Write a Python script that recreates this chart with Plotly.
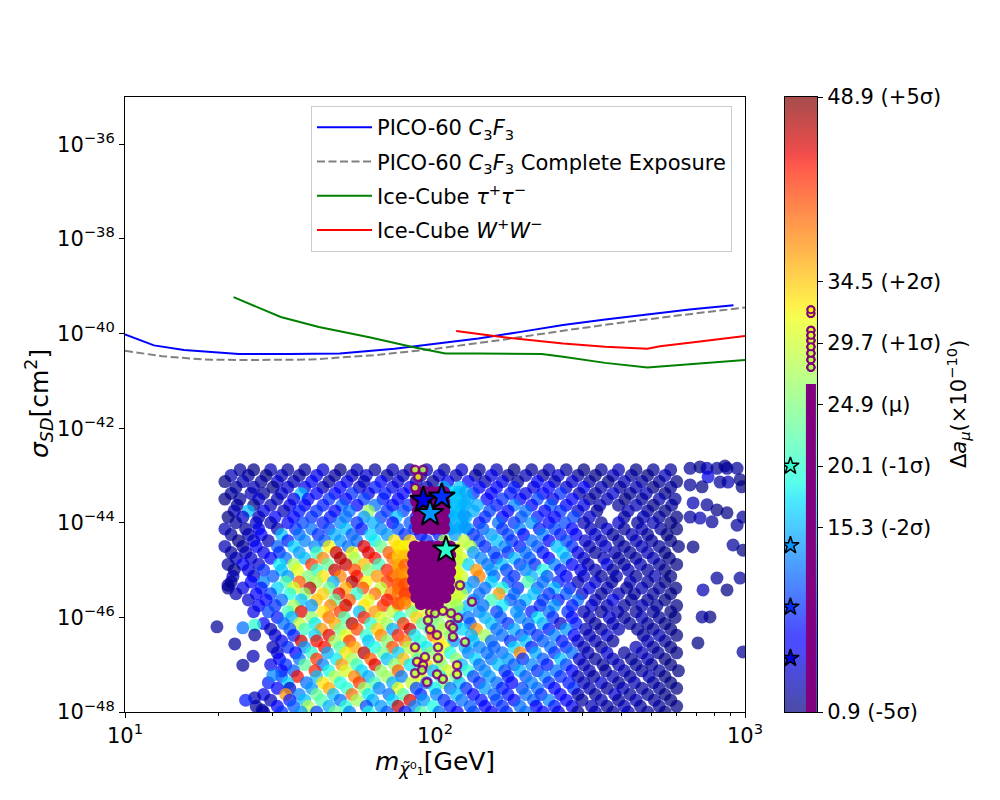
import numpy as np
import plotly.graph_objects as go

# ---------------- exclusion curves (mass in GeV, log10 sigma in cm^2) ----------------
pico_mass = [10, 12.4, 15.5, 23.3, 33.9, 49.3, 74.1, 101, 138, 189, 259, 354, 484, 662, 918]
pico_log_sigma = [-40.02, -40.25, -40.35, -40.435, -40.435, -40.42, -40.32, -40.22, -40.105,
                  -39.965, -39.82, -39.705, -39.59, -39.49, -39.40]
pico_full_mass = [10, 13.2, 18.1, 24.8, 39.6, 63.4, 101, 162, 259, 414, 662, 964, 1000]
pico_full_log_sigma = [-40.365, -40.48, -40.55, -40.56, -40.55, -40.46, -40.32, -40.14, -39.94,
                       -39.755, -39.59, -39.46, -39.45]
tau_mass = [22.4, 31.8, 42.2, 61.4, 83.9, 108, 138, 221, 259, 354, 484, 662, 1000]
tau_log_sigma = [-39.23, -39.65, -39.86, -40.08, -40.28, -40.42, -40.42, -40.435, -40.49,
                 -40.62, -40.72, -40.645, -40.56]
ww_mass = [117, 162, 259, 354, 484, 532, 705, 1000]
ww_log_sigma = [-39.945, -40.07, -40.21, -40.28, -40.32, -40.27, -40.175, -40.05]

# ---------------- scan points, grouped by log10(sigma) level ----------------
row_log_sigma = [-42.88, -43.0, -43.13, -43.25, -43.38, -43.5, -43.63, -43.75, -43.88, -44.0,
                 -44.13, -44.25, -44.38, -44.5, -44.63, -44.75, -44.88, -45.0, -45.13, -45.25,
                 -45.38, -45.5, -45.63, -45.75, -45.88, -46.0, -46.13, -46.25, -46.38, -46.5,
                 -46.63, -46.75, -46.88, -47.0, -47.13, -47.25, -47.38, -47.5, -47.63, -47.75,
                 -47.88, -48.0, -48.13]
row_mass = [
    [23.5, 26, 29.5, 33.5, 38, 43.5, 49.5, 56, 64, 73, 83, 94, 107, 122, 139, 158, 180, 205, 233, 265, 302, 344, 391, 445, 506, 576],
    [22, 25, 28.5, 32, 36.5, 41.5, 47.5, 54, 60, 70, 79, 90, 103, 117, 135, 152, 172, 196, 223, 250, 289, 329, 375, 430, 485, 552],
    [21, 24, 27.5, 31, 35, 40, 45.5, 52, 59, 67, 76, 87, 98.5, 110, 128, 145, 165, 185, 214, 243, 277, 315, 362, 408, 465, 529, 602],
    [22.8, 26, 30, 33.5, 38, 43.5, 49.5, 57, 64, 73, 83, 94, 107, 120, 139, 158, 180, 208, 233, 265, 302, 344, 395, 445, 506, 576],
    [22, 25.5, 28, 32, 37, 41.5, 47.5, 54, 61, 69, 79, 90, 103, 118, 133, 152, 175, 196, 223, 254, 292, 329, 375, 426, 480, 552],
    [21, 23.5, 27, 31, 35, 39, 45.5, 51.5, 59, 68, 76, 87, 98.5, 112, 128, 147, 165, 188, 214, 240, 277, 315, 359, 410, 465, 529, 595],
    [23, 26, 29.5, 34, 38, 43.5, 50, 56, 64, 73, 82, 94, 107, 122, 137, 158, 180, 205, 236, 265, 302, 340, 391, 445, 506, 580],
    [22.5, 25, 28, 32.5, 36.5, 41.5, 47.5, 53, 61, 70, 79, 91, 103, 117, 133, 150, 172, 196, 226, 254, 289, 333, 420, 485, 552],
    [21.5, 24, 27, 30.5, 35, 40, 46, 51.5, 59, 67, 75, 87, 98.5, 112, 126, 145, 165, 190, 214, 243, 280, 315, 408, 470, 529, 602],
    [22.8, 26.5, 29.5, 33.5, 37.5, 43.5, 49.5, 56, 63, 73, 83, 95, 107, 122, 139, 160, 180, 205, 233, 262, 302, 344, 391, 450, 506, 576],
    [21, 24.5, 27, 31, 35.5, 40, 45.5, 51.5, 58, 67, 76, 86, 98.5, 112, 128, 143, 165, 188, 217, 243, 277, 318, 359, 408, 465, 535, 602],
    [22, 25, 27.5, 32, 36.5, 42, 47.5, 54, 62, 70, 80, 90, 103, 116, 133, 152, 172, 193, 223, 254, 285, 329, 375, 432, 485, 560],
    [23.2, 26, 29, 33.5, 38, 44, 49.5, 56, 64, 74, 83, 94, 107, 124, 139, 158, 177, 205, 233, 265, 305, 344, 391, 445, 500, 576],
    [21, 24, 26.5, 31, 35, 41, 45.5, 52.5, 59, 67, 77, 87, 98.5, 112, 130, 145, 168, 188, 214, 247, 277, 315, 355, 408, 465, 529, 610],
    [22, 24.5, 28, 31.5, 36.5, 41.5, 48, 54, 61, 71, 79, 90, 102, 117, 133, 155, 172, 196, 223, 258, 289, 329, 380, 426, 485, 552],
    [22.8, 25.5, 29.5, 33, 38, 43.5, 49.5, 55, 64, 73, 84, 94, 107, 122, 141, 158, 180, 202, 233, 265, 302, 350, 391, 445, 506, 570],
    [21.5, 24, 27, 31.5, 35, 40, 45, 51.5, 59, 66, 76, 87, 97, 112, 128, 148, 165, 188, 210, 243, 277, 312, 359, 408, 460, 529, 602],
    [22.5, 25, 28, 32, 36, 41.5, 47.5, 55, 61, 70, 78, 90, 103, 117, 136, 152, 170, 196, 223, 254, 295, 329, 375, 420, 485, 552],
    [22.3, 26, 30, 33.5, 39, 43.5, 49.5, 56, 65, 73, 83, 93, 107, 122, 139, 155, 180, 205, 230, 265, 302, 344, 385, 445, 512, 576],
    [22, 25.5, 28, 33, 36.5, 41.5, 47, 54, 60, 70, 79, 89, 103, 118, 133, 152, 172, 199, 223, 250, 289, 329, 372, 426, 485, 552],
    [21.5, 24, 27.5, 31, 35, 39.5, 45.5, 51.5, 58.5, 67, 76, 88, 98.5, 112, 126, 145, 165, 185, 214, 243, 272, 315, 359, 415, 465, 529, 598],
    [22.8, 26.5, 29.5, 34, 38, 43.5, 49, 56, 64, 72, 83, 94, 106, 122, 139, 161, 180, 208, 233, 265, 298, 344, 391, 440, 506, 576],
    [25, 28.5, 32, 37, 41.5, 47.5, 53, 61, 70, 80, 90, 103, 116, 133, 152, 175, 196, 223, 250, 289, 329, 375, 430, 485, 552],
    [27, 30.5, 35, 40, 46, 51.5, 59, 68, 76, 87, 100, 112, 128, 143, 165, 188, 218, 243, 277, 320, 359, 408, 465, 520, 602],
    [26, 29, 33.5, 37, 43.5, 49.5, 57, 64, 73, 84, 94, 107, 120, 139, 158, 183, 205, 233, 268, 302, 344, 388, 445, 506, 576],
    [31, 34.5, 40, 45.5, 51, 59, 67, 77, 87, 98.5, 114, 128, 145, 163, 188, 214, 240, 277, 315, 365, 408, 465, 529, 595],
    [28, 32.5, 36.5, 41, 47.5, 54, 62, 70, 79, 91, 103, 117, 130, 152, 172, 200, 223, 254, 285, 329, 375, 425, 485, 552],
    [29.5, 34, 38, 43, 49.5, 56, 65, 73, 83, 96, 107, 122, 136, 158, 180, 202, 233, 265, 306, 344, 391, 450, 506, 576],
    [30.5, 35, 41, 45.5, 51.5, 60, 67, 76, 86, 98.5, 112, 131, 145, 165, 190, 214, 243, 281, 315, 359, 470, 529, 602],
    [32, 37, 41.5, 47.5, 53, 61, 70, 80, 90, 103, 115, 133, 152, 175, 196, 223, 257, 289, 329, 375, 485, 552],
    [30, 33.5, 38, 44, 49.5, 55, 64, 73, 82, 94, 107, 125, 139, 155, 180, 205, 236, 265, 302, 344, 445, 506, 576],
    [31, 35.5, 40, 45, 51.5, 59, 68, 76, 87, 97, 112, 128, 147, 165, 188, 211, 243, 277, 312, 359, 408, 465, 525, 602],
    [31.5, 36.5, 41.5, 48, 54, 62, 70, 79, 88, 103, 117, 135, 152, 172, 192, 223, 254, 292, 329, 375, 430, 485, 552],
    [29.5, 33, 38, 43.5, 50, 56, 64, 74, 83, 94, 105, 122, 139, 160, 180, 205, 230, 265, 302, 348, 391, 445, 500, 576],
    [32, 35, 41, 45.5, 51.5, 58, 67, 76, 89, 98.5, 110, 128, 145, 168, 188, 214, 246, 277, 315, 355, 408, 465, 529, 610],
    [32, 36, 41.5, 47.5, 55, 61, 70, 78, 90, 104, 117, 133, 150, 172, 196, 226, 254, 289, 325, 375, 426, 490, 552],
    [29, 33.5, 38.5, 43.5, 49.5, 57, 64, 73, 84, 94, 107, 120, 139, 158, 177, 205, 233, 270, 302, 344, 391, 440, 506, 576],
    [31, 34, 40, 45.5, 52, 59, 66, 76, 87, 100, 112, 126, 145, 165, 191, 214, 243, 280, 315, 359, 404, 465, 529, 602],
    [28, 33, 36.5, 41.5, 47, 54, 61, 71, 79, 90, 101, 117, 133, 155, 172, 196, 220, 254, 289, 329, 380, 426, 485, 552],
    [29.5, 34, 38, 43, 49.5, 56, 63, 73, 83, 92, 107, 122, 141, 158, 180, 208, 233, 265, 298, 344, 391, 445, 510, 576],
    [26.5, 31, 35, 39, 45.5, 51.5, 60, 67, 76, 86, 98.5, 112, 130, 145, 165, 188, 212, 243, 277, 320, 359, 408, 460, 529, 602],
    [28, 32, 37, 41.5, 47.5, 53, 61, 70, 80, 90, 103, 118, 133, 152, 170, 196, 223, 250, 289, 329, 375, 420, 485, 552],
    [29.5, 33.5, 38, 43.5, 49.5, 56, 64, 73, 83, 94, 107, 122, 139, 158, 180, 205, 233, 265, 302, 344, 391, 445, 506],
]
row_delta = [
    [2, 1, 3, 2, 2, 4, 1, 3, 2, 3, 2, 3, 2, 4, 2, 3, 1, 2, 3, 2, 1, 2, 3, 1, 2, 2],
    [3, 2, 1, 3, 2, 5, 2, 3, 4, 2, 3, 2, 4, 3, 2, 5, 2, 3, 2, 4, 2, 1, 3, 2, 1, 3],
    [1, 3, 2, 4, 3, 6, 2, 5, 3, 7, 4, 3, 2, 5, 6, 3, 5, 2, 6, 3, 4, 2, 1, 3, 2, 2, 1],
    [2, 3, 1, 4, 5, 3, 7, 4, 8, 5, 6, 3, 15, 16, 6, 6, 8, 5, 7, 4, 6, 3, 2, 3, 1, 2],
    [2, 3, 2, 4, 16, 6, 7, 9, 5, 8, 6, 5, 4, 17, 9, 6, 8, 5, 7, 9, 3, 2, 4, 2, 3, 1],
    [1, 2, 4, 3, 5, 7, 9, 6, 10, 8, 6, 5, 4, 16, 15, 7, 9, 6, 10, 5, 7, 2, 3, 1, 2, 3, 2],
    [2, 1, 3, 5, 6, 8, 11, 7, 12, 6, 9, 5, 16, 17, 15, 8, 13, 7, 11, 6, 5, 3, 2, 3, 1, 2],
    [3, 16, 5, 3, 8, 9, 6, 12, 27, 9, 10, 5, 6, 16, 15, 10, 6, 12, 7, 9, 4, 2, 3, 2, 1],
    [1, 4, 3, 6, 7, 9, 8, 12, 14, 10, 16, 7, 6, 16, 15, 9, 7, 11, 8, 6, 10, 4, 2, 3, 2, 1],
    [2, 4, 3, 6, 10, 8, 13, 9, 15, 7, 11, 6, 15, 16, 8, 12, 9, 14, 7, 10, 3, 2, 4, 2, 3, 1],
    [3, 2, 5, 3, 9, 12, 10, 16, 8, 13, 11, 9, 6, 15, 14, 11, 9, 13, 8, 10, 7, 3, 4, 2, 3, 2, 1],
    [2, 3, 7, 16, 12, 9, 15, 11, 17, 14, 9, 7, 8, 14, 9, 14, 10, 7, 13, 8, 6, 4, 2, 3, 2, 1],
    [1, 4, 3, 8, 13, 11, 14, 12, 18, 33, 34, 9, 28, 29, 10, 16, 9, 12, 7, 10, 4, 3, 2, 3, 2, 1],
    [3, 2, 6, 11, 17, 13, 32, 12, 45, 24, 33, 30, 8, 28, 28, 9, 13, 8, 11, 16, 9, 3, 4, 2, 3, 2, 1],
    [2, 3, 5, 9, 14, 21, 46, 32, 45, 40, 35, 10, 14, 29, 14, 11, 9, 12, 8, 17, 5, 2, 3, 2, 3, 1],
    [3, 4, 7, 12, 16, 38, 47, 27, 44, 39, 36, 9, 29, 30, 13, 9, 16, 11, 7, 14, 4, 3, 2, 2, 3, 1],
    [2, 6, 4, 18, 27, 42, 23, 46, 35, 21, 38, 40, 12, 30, 17, 12, 16, 10, 9, 13, 6, 3, 5, 2, 3, 2, 1],
    [1, 5, 9, 16, 31, 20, 46, 41, 25, 43, 38, 9, 30, 28, 37, 14, 10, 13, 19, 8, 5, 3, 2, 3, 2, 1],
    [3, 4, 11, 14, 25, 33, 38, 44, 37, 40, 36, 12, 30, 29, 38, 12, 9, 15, 11, 6, 4, 2, 3, 2, 3, 1],
    [2, 7, 13, 22, 40, 27, 15, 47, 32, 42, 39, 9, 28, 30, 13, 17, 10, 22, 12, 8, 3, 4, 2, 3, 2, 1],
    [1, 5, 8, 17, 30, 47, 24, 36, 41, 29, 40, 30, 11, 30, 15, 12, 19, 9, 12, 16, 8, 5, 3, 2, 3, 2, 1],
    [3, 6, 10, 19, 26, 34, 45, 20, 39, 38, 41, 30, 29, 28, 12, 37, 12, 16, 9, 11, 4, 2, 3, 2, 2, 1],
    [4, 7, 12, 16, 35, 23, 40, 31, 44, 37, 31, 42, 28, 13, 21, 11, 16, 10, 8, 12, 3, 5, 2, 2, 1],
    [6, 9, 27, 14, 38, 46, 33, 42, 39, 31, 30, 28, 16, 12, 18, 11, 9, 14, 8, 4, 3, 2, 3, 2, 1],
    [5, 10, 21, 45, 33, 42, 16, 37, 29, 24, 30, 27, 17, 13, 10, 14, 8, 12, 9, 3, 2, 3, 2, 2, 1],
    [8, 15, 26, 39, 22, 43, 30, 19, 34, 24, 29, 12, 15, 11, 13, 18, 9, 7, 3, 4, 2, 3, 2, 1],
    [7, 12, 29, 18, 36, 47, 20, 27, 42, 23, 26, 14, 11, 16, 9, 12, 15, 4, 8, 2, 3, 2, 2, 1],
    [3, 11, 21, 37, 24, 41, 34, 15, 46, 22, 28, 17, 37, 12, 15, 10, 8, 14, 3, 2, 3, 2, 2, 1],
    [4, 8, 17, 45, 31, 20, 38, 43, 18, 39, 26, 15, 27, 12, 11, 9, 13, 7, 3, 4, 2, 3, 1],
    [5, 46, 44, 27, 42, 16, 25, 39, 20, 33, 14, 16, 12, 9, 16, 11, 8, 4, 3, 2, 3, 2],
    [3, 9, 14, 44, 22, 36, 19, 41, 28, 18, 32, 16, 13, 11, 17, 8, 12, 9, 3, 2, 3, 2, 1],
    [4, 7, 20, 15, 33, 47, 24, 17, 29, 26, 19, 13, 12, 12, 38, 15, 9, 12, 3, 4, 2, 3, 2, 1],
    [6, 12, 42, 18, 27, 40, 16, 35, 23, 31, 26, 17, 12, 14, 9, 11, 16, 4, 2, 3, 2, 3, 1],
    [5, 9, 23, 13, 37, 21, 45, 26, 18, 34, 25, 16, 12, 16, 11, 13, 8, 10, 3, 2, 3, 2, 2, 1],
    [6, 11, 43, 19, 30, 17, 26, 40, 22, 16, 30, 20, 13, 10, 15, 9, 12, 7, 3, 2, 3, 2, 2, 1],
    [10, 44, 16, 28, 38, 15, 27, 13, 31, 19, 24, 10, 14, 8, 11, 13, 9, 3, 2, 3, 2, 3, 1],
    [8, 17, 12, 33, 19, 42, 22, 15, 29, 11, 26, 16, 9, 12, 7, 13, 9, 8, 3, 4, 2, 3, 2, 1],
    [7, 4, 14, 36, 20, 26, 13, 31, 10, 18, 12, 9, 14, 8, 10, 12, 7, 9, 3, 2, 3, 2, 2, 1],
    [5, 37, 13, 24, 16, 39, 18, 12, 22, 9, 13, 16, 7, 11, 8, 12, 9, 6, 3, 2, 4, 2, 2, 1],
    [3, 8, 16, 22, 12, 27, 15, 17, 45, 14, 9, 12, 8, 10, 7, 11, 13, 6, 2, 3, 2, 3, 2, 1],
    [2, 6, 11, 28, 15, 20, 10, 14, 46, 13, 19, 8, 11, 7, 9, 12, 6, 8, 5, 3, 2, 3, 2, 2, 1],
    [4, 9, 14, 10, 24, 13, 19, 11, 8, 22, 12, 7, 10, 6, 9, 12, 7, 5, 2, 3, 2, 3, 2, 1],
    [6, 10, 18, 12, 9, 22, 14, 9, 7, 11, 8, 6, 9, 5, 7, 10, 6, 5, 3, 2, 2, 3, 2],
]

# isolated points (far right and left outskirts)
outlier_mass = [665, 716, 754, 812, 862, 875, 943, 964, 882, 831, 760, 665, 727, 680, 754, 812, 665,
                716, 783, 875, 943, 985, 978, 915, 680, 812, 875, 964, 985, 732, 771, 727, 705, 985,
                19.8, 24, 26.2, 26.2, 22.6, 25.9, 24, 21.5, 30, 26.2, 27.7, 24.5]
outlier_log_sigma = [-42.85, -42.82, -42.85, -42.85, -42.8, -42.85, -42.85, -43.09, -43.14, -43.14,
                     -43.03, -43.2, -43.24, -43.58, -43.62, -43.73, -43.88, -43.9, -43.98, -43.79,
                     -44.05, -43.88, -43.24, -44.47, -44.51, -45.17, -45.42, -45.17, -44.58, -45.42,
                     -45.99, -45.99, -46.54, -46.73,
                     -46.2, -46.22, -46.16, -46.37, -46.56, -46.82, -47.01, -45.32, -47.22, -47.7,
                     -47.96, -47.75]
outlier_delta = [2, 1, 3, 2, 1, 2, 2, 1, 3, 2, 5, 2, 1, 3, 2, 1, 2, 3, 2, 1, 2, 2, 1, 2, 1, 2, 1, 2,
                 1, 3, 1, 2, 1, 2,
                 2, 12, 20, 2, 2, 3, 2, 2, 13, 3, 2, 8]

# compact clusters next to the benchmark region
block_mass = [108, 114, 120, 125, 109, 115, 121, 125, 108, 114, 120, 124, 109, 115, 120, 125,
              76, 80, 76, 80, 76, 80, 76, 80, 76, 80, 76, 80, 76, 80,
              118, 118, 118, 118, 118, 118]
block_log_sigma = [-43.35, -43.35, -43.35, -43.35, -43.6, -43.6, -43.6, -43.6,
                   -43.85, -43.85, -43.85, -43.85, -44.1, -44.1, -44.1, -44.1,
                   -44.5, -44.5, -44.7, -44.7, -44.9, -44.9, -45.1, -45.1, -45.3, -45.3,
                   -45.5, -45.5, -45.7, -45.7,
                   -44.55, -44.8, -45.05, -45.3, -45.55, -45.75]
block_delta = [16, 17, 16, 15, 15, 16, 16, 15, 15, 15, 16, 14, 14, 15, 15, 14,
               33, 32, 34, 35, 36, 40, 38, 37, 40, 41, 39, 42, 41, 38,
               30, 29, 31, 28, 30, 27]

# points shown in solid purple
purple_row_log_sigma = [-43.35, -43.55, -43.75, -43.95, -44.12, -44.5, -44.68, -44.86, -45.04,
                        -45.22, -45.4, -45.58, -45.72]
purple_row_mass = [
    [88, 93, 98, 103, 107], [87, 92, 97, 102, 107], [88, 93, 98, 103, 107],
    [87, 92, 97, 102, 107], [88, 93, 98, 103, 107],
    [86, 91, 96, 102, 107, 112], [85, 90, 96, 101, 107, 112], [85, 91, 96, 102, 107, 112],
    [85, 90, 96, 101, 107, 112], [85, 91, 96, 102, 107, 111], [86, 90, 96, 101, 106, 111],
    [87, 92, 97, 103, 108], [90, 96, 102],
]
purple_delta_range = [0.9, 26.5]

# open purple circles
circle_mass = [96.4, 100, 106, 112.6, 118.7, 94.9, 111.8, 114.3, 96.4, 101.5, 114.3, 125, 86.2,
               102.3, 102.3, 87.5, 91.5, 92.8, 86.2, 90.8, 94.2, 101.5, 106, 117.8, 117.8, 131.6,
               120.4, 86.2, 91.5, 88.2, 86.2]
circle_log_sigma = [-45.89, -45.91, -45.86, -45.91, -46.01, -46.06, -46.16, -46.22, -46.25, -46.37,
                    -46.41, -46.52, -46.63, -46.63, -46.86, -46.94, -47.01, -46.84, -47.18, -47.11,
                    -47.37, -47.2, -47.3, -47.01, -47.2, -45.67, -45.32, -42.88, -42.88, -43.03,
                    -43.26]
circle_delta = [29.9, 28.4, 30.3, 27.8, 28.9, 29.4, 30.7, 28.4, 32.0, 29.9, 28.9, 27.8, 30.3, 29.4,
                28.4, 32.3, 29.9, 30.7, 28.9, 27.8, 29.4, 30.3, 28.4, 32.0, 29.9, 28.9, 30.7, 29.4,
                27.8, 32.3, 30.3]

# benchmark stars
star_mass = [91.7, 105.1, 96.4, 108.5]
star_log_sigma = [-43.52, -43.45, -43.80, -44.57]
star_delta = [5.1, 9.1, 13.9, 20.1]

# colour bar
cbar_tickvals = [0.9, 15.3, 20.1, 24.9, 29.7, 34.5, 48.9]
cbar_ticktext = ['0.9 (-5σ)', '15.3 (-2σ)', '20.1 (-1σ)', '24.9 (μ)', '29.7 (+1σ)',
                 '34.5 (+2σ)', '48.9 (+5σ)']
DA_MIN, DA_MAX = 0.9, 48.9

JET = [[0.0, 'rgb(0,0,128)'], [0.11, 'rgb(0,0,255)'], [0.125, 'rgb(0,0,255)'],
       [0.34, 'rgb(0,219,255)'], [0.35, 'rgb(0,230,247)'], [0.375, 'rgb(21,255,226)'],
       [0.64, 'rgb(239,255,8)'], [0.66, 'rgb(255,236,0)'], [0.89, 'rgb(255,19,0)'],
       [0.91, 'rgb(232,0,0)'], [1.0, 'rgb(128,0,0)']]

FONT = 'DejaVu Sans'
fig = go.Figure()

# ---- scan scatter ----
sx, sy, sc = [], [], []
for ls, ms, ds in zip(row_log_sigma, row_mass, row_delta):
    for m, d in zip(ms, ds):
        sx.append(m); sy.append(10 ** ls); sc.append(d)
for m, ls, d in zip(outlier_mass, outlier_log_sigma, outlier_delta):
    sx.append(m); sy.append(10 ** ls); sc.append(d)
for m, ls, d in zip(block_mass, block_log_sigma, block_delta):
    sx.append(m); sy.append(10 ** ls); sc.append(d)

fig.add_trace(go.Scatter(
    x=sx, y=sy, mode='markers', showlegend=False, hoverinfo='skip',
    marker=dict(size=13, color=sc, colorscale=JET, cmin=DA_MIN, cmax=DA_MAX,
                opacity=0.72, line=dict(width=0))))

px_, py_ = [], []
for ls, ms in zip(purple_row_log_sigma, purple_row_mass):
    for m in ms:
        px_.append(m); py_.append(10 ** ls)
fig.add_trace(go.Scatter(
    x=px_, y=py_, mode='markers', showlegend=False, hoverinfo='skip',
    marker=dict(size=12, color='#800080', line=dict(width=0))))

fig.add_trace(go.Scatter(
    x=circle_mass, y=[10 ** v for v in circle_log_sigma], mode='markers', showlegend=False,
    hoverinfo='skip',
    marker=dict(size=8, color=circle_delta, colorscale=JET, cmin=DA_MIN, cmax=DA_MAX,
                opacity=0.85, line=dict(width=2.5, color='#800080'))))

fig.add_trace(go.Scatter(
    x=star_mass, y=[10 ** v for v in star_log_sigma], mode='markers', showlegend=False,
    hoverinfo='skip',
    marker=dict(symbol='star', size=20, color=star_delta, colorscale=JET, cmin=DA_MIN,
                cmax=DA_MAX, line=dict(width=2, color='black'))))

# ---- limit curves ----
curves = [
    (pico_mass, pico_log_sigma, 'PICO-60 <i>C</i><sub>3</sub><i>F</i><sub>3</sub>', '#0000ff', 'solid'),
    (pico_full_mass, pico_full_log_sigma,
     'PICO-60 <i>C</i><sub>3</sub><i>F</i><sub>3</sub> Complete Exposure', '#808080', '8px,3.5px'),
    (tau_mass, tau_log_sigma, 'Ice-Cube <i>τ</i><sup>+</sup><i>τ</i><sup>−</sup>', '#008000', 'solid'),
    (ww_mass, ww_log_sigma, 'Ice-Cube <i>W</i><sup>+</sup><i>W</i><sup>−</sup>', '#ff0000', 'solid'),
]
for i, (mx, ly, name, col, dash) in enumerate(curves):
    fig.add_trace(go.Scatter(x=mx, y=[10 ** v for v in ly], mode='lines', name=name,
                             legendgroup='g%d' % i,
                             line=dict(color=col, width=2, dash=dash), hoverinfo='skip'))

# ---- colour bar panel ----
levels = np.linspace(DA_MIN, DA_MAX, 241)
fig.add_trace(go.Heatmap(z=[[v] for v in levels], x=[0.5], y=levels, colorscale=JET,
                         zmin=DA_MIN, zmax=DA_MAX, showscale=False, opacity=0.7,
                         xaxis='x2', yaxis='y2', hoverinfo='skip'))
fig.add_trace(go.Scatter(x=[0.81, 0.81], y=purple_delta_range, mode='lines', xaxis='x2',
                         yaxis='y2', showlegend=False, hoverinfo='skip',
                         line=dict(color='#800080', width=10)))
fig.add_trace(go.Scatter(x=[0.81] * len(circle_delta), y=circle_delta, mode='markers',
                         xaxis='x2', yaxis='y2', showlegend=False, hoverinfo='skip',
                         marker=dict(size=7, color=circle_delta, colorscale=JET, cmin=DA_MIN,
                                     cmax=DA_MAX, line=dict(width=2, color='#800080'))))
fig.add_trace(go.Scatter(x=[0.17] * len(star_delta), y=star_delta, mode='markers',
                         xaxis='x2', yaxis='y2', showlegend=False, hoverinfo='skip',
                         marker=dict(symbol='star', size=13, color=star_delta, colorscale=JET,
                                     cmin=DA_MIN, cmax=DA_MAX,
                                     line=dict(width=1.5, color='black'))))

sup = lambda e: '10<sup>' + str(e).replace('-', '−') + '</sup>'
y_exps = [-48, -46, -44, -42, -40, -38, -36]

# page has an 8px body margin: positions below compensate for it
fig.update_layout(
    width=1000, height=800, margin=dict(l=0, r=0, t=0, b=0, autoexpand=False),
    paper_bgcolor='white', plot_bgcolor='white',
    font=dict(family=FONT, size=21, color='black'),
    xaxis=dict(type='log', range=[1, 3], domain=[0.117, 0.737], anchor='y', automargin=False,
               showline=True, linecolor='black', linewidth=1, mirror=True,
               ticks='outside', ticklen=5, tickwidth=1, tickcolor='black',
               tickvals=[10, 100, 1000], ticktext=[sup(1), sup(2), sup(3)],
               showgrid=False, zeroline=False,
               minor=dict(ticks='outside', ticklen=3, tickwidth=1, tickcolor='black',
                          tickvals=[20, 30, 40, 50, 60, 70, 80, 90, 200, 300, 400, 500,
                                    600, 700, 800, 900], showgrid=False)),
    yaxis=dict(type='log', range=[-48, -35], domain=[0.12, 0.88875], anchor='x',
               automargin=False,
               showline=True, linecolor='black', linewidth=1, mirror=True,
               ticks='outside', ticklen=5, tickwidth=1, tickcolor='black',
               tickvals=[10.0 ** e for e in y_exps], ticktext=[sup(e) for e in y_exps],
               showgrid=False, zeroline=False),
    xaxis2=dict(domain=[0.777, 0.809], range=[0, 1], anchor='y2', showticklabels=False,
                automargin=False,
                ticks='', showline=True, linecolor='black', linewidth=1, mirror=True,
                showgrid=False, zeroline=False),
    yaxis2=dict(domain=[0.12, 0.88875], range=[DA_MIN, DA_MAX], anchor='x2', side='right',
                automargin=False,
                tickvals=cbar_tickvals, ticktext=cbar_ticktext, ticks='outside', ticklen=5,
                tickcolor='black', showline=True, linecolor='black', linewidth=1, mirror=True,
                showgrid=False, zeroline=False),
    legend=dict(x=0.303, y=0.8775, xanchor='left', yanchor='top',
                bgcolor='rgba(255,255,255,0.8)', bordercolor='#cccccc', borderwidth=1,
                font=dict(family=FONT, size=21), tracegroupgap=4, itemwidth=55,
                traceorder='grouped'),
    annotations=[
        dict(text='<i>m</i><sub><i>χ̃</i>⁰₁</sub>[GeV]', x=0.427, y=0.056, xref='paper',
             yref='paper', xanchor='center', yanchor='middle', showarrow=False,
             font=dict(family=FONT, size=25)),
        dict(text='<i>σ</i><sub><i>SD</i></sub>[cm<sup>2</sup>]', x=0.031, y=0.505,
             xref='paper', yref='paper', xanchor='center', yanchor='middle', showarrow=False,
             textangle=-90, font=dict(family=FONT, size=25)),
        dict(text='Δ<i>a</i><sub><i>μ</i></sub>(×10<sup>−10</sup>)', x=0.950, y=0.505,
             xref='paper', yref='paper', xanchor='center', yanchor='middle', showarrow=False,
             textangle=-90, font=dict(family=FONT, size=21)),
    ],
)

fig.write_html('out.html')
